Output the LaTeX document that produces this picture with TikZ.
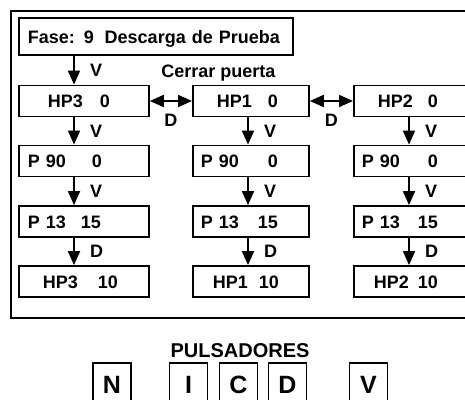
\documentclass[tikz,border=0pt]{standalone}
\usepackage{fontspec}
\setmainfont{Liberation Sans}
\usetikzlibrary{arrows.meta}
\newcommand\cellrow[4]{\rlap{\hspace*{#1}#2}\hspace*{#3}#4}

\begin{document}
\begin{tikzpicture}[x=1pt,y=-1pt,
        font=\fontsize{18}{20}\selectfont\bfseries,
        box/.style={draw,line width=1.8pt,anchor=west,inner xsep=0pt,inner ysep=0pt,
            minimum height=31pt,align=left,text height=13pt,text depth=0pt},
        flow/.style={line width=1.8pt,-{Triangle[length=14pt,width=12pt]}},
        swap/.style={line width=1.8pt,{Triangle[length=14pt,width=12pt]}-{Triangle[length=14pt,width=12pt]}},
        key/.style={draw,line width=1.8pt,minimum width=38pt,minimum height=44pt,inner sep=0pt,
            font=\fontsize{25}{27}\selectfont\bfseries}]
            \useasboundingbox (0,0) rectangle (465,399);
            \draw[line width=1.8pt] (11,11) rectangle (480,318);
            \node[box,text width=274pt,minimum height=37pt] (fase) at (18,36.5) {\hspace*{9pt}Fase: 9\hspace{0.6em}Descarga de Prueba};
            \node[anchor=base] (cerrar) at (218.5,77) {Cerrar puerta};
            % columna HP3
            \node[box,text width=130pt] (hp3) at (18,101) {\cellrow{29pt}{HP3}{81pt}{0}};
            \node[box,text width=130pt] (p90a) at (18,161) {\cellrow{9pt}{P 90}{73pt}{0}};
            \node[box,text width=130pt] (p13a) at (18,221.5) {\cellrow{9pt}{P 13}{62pt}{15}};
            \node[box,text width=130pt] (hp3b) at (18,281.5) {\cellrow{24pt}{HP3}{79pt}{10}};
            % columna HP1
            \node[box,text width=116pt] (hp1) at (192,101) {\cellrow{24pt}{HP1}{75pt}{0}};
            \node[box,text width=116pt] (p90b) at (192,161) {\cellrow{8pt}{P 90}{75pt}{0}};
            \node[box,text width=116pt] (p13b) at (192,221.5) {\cellrow{8pt}{P 13}{65pt}{15}};
            \node[box,text width=116pt] (hp1b) at (192,281.5) {\cellrow{20pt}{HP1}{66pt}{10}};
            % columna HP2
            \node[box,text width=116pt] (hp2) at (353,101) {\cellrow{24pt}{HP2}{74pt}{0}};
            \node[box,text width=116pt] (p90c) at (353,161) {\cellrow{8pt}{P 90}{74pt}{0}};
            \node[box,text width=116pt] (p13c) at (353,221.5) {\cellrow{8pt}{P 13}{64pt}{15}};
            \node[box,text width=116pt] (hp2b) at (353,281.5) {\cellrow{20pt}{HP2}{64pt}{10}};
            % flechas
            \draw[flow] ([xshift=56pt]fase.south west) -- ([xshift=56pt]hp3.north west) node[midway,anchor=west,xshift=12pt] {V};
            \draw[flow] ([xshift=56pt]hp3.south west) -- ([xshift=56pt]p90a.north west) node[midway,anchor=west,xshift=12pt] {V};
            \draw[flow] ([xshift=56pt]p90a.south west) -- ([xshift=56pt]p13a.north west) node[midway,anchor=west,xshift=12pt] {V};
            \draw[flow] ([xshift=56pt]p13a.south west) -- ([xshift=56pt]hp3b.north west) node[midway,anchor=west,xshift=12pt] {D};
            \draw[flow] ([xshift=56pt]hp1.south west) -- ([xshift=56pt]p90b.north west) node[midway,anchor=west,xshift=12pt] {V};
            \draw[flow] ([xshift=56pt]p90b.south west) -- ([xshift=56pt]p13b.north west) node[midway,anchor=west,xshift=12pt] {V};
            \draw[flow] ([xshift=56pt]p13b.south west) -- ([xshift=56pt]hp1b.north west) node[midway,anchor=west,xshift=12pt] {D};
            \draw[flow] ([xshift=56pt]hp2.south west) -- ([xshift=56pt]p90c.north west) node[midway,anchor=west,xshift=12pt] {V};
            \draw[flow] ([xshift=56pt]p90c.south west) -- ([xshift=56pt]p13c.north west) node[midway,anchor=west,xshift=12pt] {V};
            \draw[flow] ([xshift=56pt]p13c.south west) -- ([xshift=56pt]hp2b.north west) node[midway,anchor=west,xshift=12pt] {D};
            \draw[swap] (hp3.east) -- (hp1.west) node[midway,yshift=-19pt] {D};
            \draw[swap] (hp1.east) -- (hp2.west) node[midway,yshift=-19pt] {D};
            % pulsadores
            \node[anchor=base,font=\fontsize{20}{22}\selectfont\bfseries] (puls) at (240,357) {PULSADORES};
            \node[key] (kn) at (112,385) {N};
            \node[key] (ki) at (188.5,385) {I};
            \node[key] (kc) at (238.5,385) {C};
            \node[key] (kd) at (287.5,385) {D};
            \node[key] (kv) at (368.5,385) {V};
        \end{tikzpicture}
\end{document}
